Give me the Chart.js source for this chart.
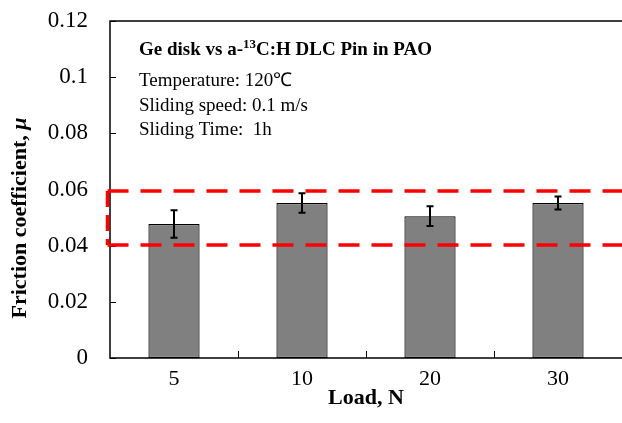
<!DOCTYPE html>
<html>
<head>
<meta charset="utf-8">
<script src="https://cdn.jsdelivr.net/npm/chart.js"></script>
<style>
  html, body { margin: 0; padding: 0; background: #fff; }
  #wrap { width: 622px; height: 423px; }
</style>
</head>
<body>
<div id="wrap"><canvas id="grafico"></canvas></div>
<script>
// dados
const loads = ['5', '10', '20', '30'];
const friction = [0.0477, 0.0552, 0.0505, 0.0552];
const frictionErr = [0.0049, 0.0035, 0.0035, 0.0023];
const yTickLabels = ['0', '0.02', '0.04', '0.06', '0.08', '0.1', '0.12'];
const bandLow = 0.0402;
const bandHigh = 0.0595;
const infoLines = ['Temperature: 120\u2103', 'Sliding speed: 0.1 m/s', 'Sliding Time:  1h'];

const serif = '"Liberation Serif", "Times New Roman", serif';

// moldura, ticks, barras de erro, faixa tracejada e textos
const extras = {
  id: 'extras',
  afterDatasetsDraw(chart) {
    const { ctx, chartArea: a, scales: { x, y } } = chart;
    ctx.save();

    // moldura
    ctx.strokeStyle = '#000';
    ctx.lineWidth = 1.5;
    ctx.beginPath();
    ctx.moveTo(a.right + 5, a.top);
    ctx.lineTo(a.left, a.top);
    ctx.lineTo(a.left, a.bottom);
    ctx.lineTo(a.right + 5, a.bottom);
    ctx.stroke();

    // ticks internos
    ctx.lineWidth = 1;
    ctx.beginPath();
    y.ticks.forEach(t => {
      const py = Math.round(y.getPixelForValue(t.value)) + 0.5;
      ctx.moveTo(a.left, py);
      ctx.lineTo(a.left + 6, py);
    });
    for (let i = 1; i < loads.length; i++) {
      const px = Math.round((x.getPixelForValue(i - 1) + x.getPixelForValue(i)) / 2) + 0.5;
      ctx.moveTo(px, a.bottom);
      ctx.lineTo(px, a.bottom - 7);
    }
    ctx.stroke();

    // barras de erro
    ctx.lineWidth = 2;
    friction.forEach((v, i) => {
      const px = x.getPixelForValue(i);
      const top = y.getPixelForValue(v + frictionErr[i]);
      const bot = y.getPixelForValue(v - frictionErr[i]);
      ctx.beginPath();
      ctx.moveTo(px, top); ctx.lineTo(px, bot);
      ctx.moveTo(px - 3.5, top); ctx.lineTo(px + 3.5, top);
      ctx.moveTo(px - 3.5, bot); ctx.lineTo(px + 3.5, bot);
      ctx.stroke();
    });

    // faixa tracejada vermelha
    const yh = y.getPixelForValue(bandHigh);
    const yl = y.getPixelForValue(bandLow);
    const xl = a.left - 2.5;
    ctx.strokeStyle = '#ff0000';
    ctx.lineWidth = 3.5;
    ctx.setLineDash([21, 12]);
    ctx.beginPath();
    ctx.moveTo(xl, yh); ctx.lineTo(a.right + 10, yh);
    ctx.moveTo(xl, yl); ctx.lineTo(a.right + 10, yl);
    ctx.stroke();
    ctx.setLineDash([16, 8]);
    ctx.beginPath();
    ctx.moveTo(xl, yh); ctx.lineTo(xl, yl);
    ctx.stroke();
    ctx.setLineDash([]);

    // textos do ensaio
    ctx.fillStyle = '#000';
    ctx.textAlign = 'left';
    ctx.textBaseline = 'alphabetic';
    let tx = 139;
    const parts = [['bold 19px ' + serif, 'Ge disk vs a-', 0], ['bold 13px ' + serif, '13', -7], ['bold 19px ' + serif, 'C:H DLC Pin in PAO', 0]];
    parts.forEach(([f, s, dy]) => {
      ctx.font = f;
      ctx.fillText(s, tx, 55 + dy);
      tx += ctx.measureText(s).width;
    });
    ctx.font = '19px ' + serif;
    infoLines.forEach((s, i) => ctx.fillText(s, 139, 86 + i * 24.5));

    // título do eixo y
    ctx.translate(20, 218);
    ctx.rotate(-Math.PI / 2);
    ctx.textBaseline = 'middle';
    ctx.font = 'bold 22px ' + serif;
    const t1 = 'Friction coefficient, ';
    const w1 = ctx.measureText(t1).width;
    ctx.font = 'italic bold 22px ' + serif;
    const w2 = ctx.measureText('\u03bc').width;
    const sx = -(w1 + w2) / 2;
    ctx.font = 'bold 22px ' + serif;
    ctx.fillText(t1, sx, 0);
    ctx.font = 'italic bold 22px ' + serif;
    ctx.fillText('\u03bc', sx + w1, 0);

    ctx.restore();
  }
};

new Chart(document.getElementById('grafico'), {
  type: 'bar',
  data: {
    labels: loads,
    datasets: [{
      data: friction,
      backgroundColor: '#808080',
      borderColor: '#000',
      borderWidth: 1.2,
      borderSkipped: false,
      barPercentage: 0.4,
      categoryPercentage: 1
    }]
  },
  options: {
    responsive: true,
    maintainAspectRatio: false,
    animation: false,
    layout: { padding: { top: 21, right: -3, left: 0, bottom: 0 } },
    plugins: {
      legend: { display: false },
      tooltip: { enabled: false }
    },
    scales: {
      x: {
        grid: { display: false },
        border: { display: false },
        ticks: { color: '#000', font: { family: serif, size: 22 }, padding: 0 },
        title: {
          display: true,
          text: 'Load, N',
          color: '#000',
          font: { family: serif, size: 22, weight: 'bold' },
          padding: { top: 0, bottom: 11 }
        },
        afterFit: s => { s.height = 65; s.paddingLeft = 0; s.paddingRight = 0; }
      },
      y: {
        min: 0,
        max: 0.12,
        grid: { display: false },
        border: { display: false },
        ticks: {
          stepSize: 0.02,
          color: '#000',
          font: { family: serif, size: 23 },
          padding: 14,
          callback: (v, i) => yTickLabels[i]
        },
        afterFit: s => { s.width = 110; s.paddingTop = 0; s.paddingBottom = 0; }
      }
    }
  },
  plugins: [extras]
});
</script>
</body>
</html>
